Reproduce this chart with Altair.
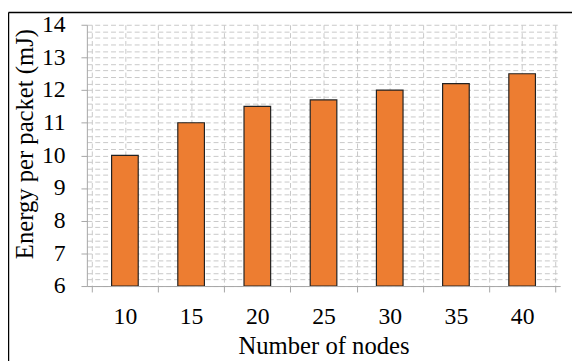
import altair as alt
import pandas as pd

nodes = [10, 15, 20, 25, 30, 35, 40]
energy = [10.0, 11.0, 11.5, 11.7, 12.0, 12.2, 12.5]

x_ticks = [7.5, 10, 12.5, 15, 17.5, 20, 22.5, 25, 27.5, 30, 32.5, 35, 37.5, 40, 42.5]
y_ticks = [round(6 + 0.2 * i, 1) for i in range(41)]

df = pd.DataFrame({"nodes": nodes, "energy": energy})

FONT = "Liberation Serif"
AXIS_GRAY = "#a6a6a6"
GRID = "#c8c8c8"

x_scale = alt.Scale(domain=[7.5, 42.5], nice=False, zero=False)
y_scale = alt.Scale(domain=[6, 14], nice=False, zero=False)

bars = alt.Chart(df).mark_bar(
    size=27, color="#ED7D31", stroke="#222222", strokeWidth=1.2, clip=True
).encode(
    x=alt.X("nodes:Q", scale=x_scale, axis=alt.Axis(
        values=x_ticks,
        title="Number of nodes",
        format="d",
        labelExpr="datum.value % 5 == 0 ? datum.label : ''",
        tickOpacity={"condition": {"test": "datum.value % 5 == 0", "value": 0}, "value": 1},
        tickSize=6, labelPadding=13, labelOverlap=False, labelFlush=False,
        labelFont=FONT, labelFontSize=24, titleFont=FONT, titleFontSize=25,
        grid=True, gridDash=[5, 3], gridColor=GRID, gridWidth=1,
        domainColor=AXIS_GRAY, tickColor=AXIS_GRAY,
        titleY=68.5, titleBaseline="alphabetic",
    )),
    y=alt.Y("energy:Q", scale=y_scale, axis=alt.Axis(
        values=y_ticks,
        title="Energy per packet (mJ)",
        format=".0f",
        labelExpr="abs(datum.value - round(datum.value)) < 0.001 ? datum.label : ''",
        tickOpacity={"condition": {"test": "abs(datum.value - round(datum.value)) < 0.001", "value": 1}, "value": 0},
        tickSize=6, labelPadding=16, labelOverlap=False, labelFlush=False,
        labelFont=FONT, labelFontSize=24, titleFont=FONT, titleFontSize=25,
        grid=True, gridDash=[5, 3], gridColor=GRID, gridWidth=1,
        domainColor=AXIS_GRAY, tickColor=AXIS_GRAY,
        titleX=-55, titleY=120.5, titleAngle=-90, titleAlign="center",
        titleBaseline="alphabetic",
    )),
    y2=alt.datum(6),
)

frame = pd.DataFrame({"a": [0]})
left_border = alt.Chart(frame).mark_rule(color="#000000", strokeWidth=1.5).encode(
    x=alt.value(-79.5), y=alt.value(-12.5), y2=alt.value(400)
)
top_border = alt.Chart(frame).mark_rule(color="#000000", strokeWidth=1.5).encode(
    x=alt.value(-79.5), x2=alt.value(600), y=alt.value(-12.5)
)

chart = alt.layer(bars, left_border, top_border).properties(
    width=480, height=265,
    autosize="none",
    padding={"left": 80, "top": 14.5, "right": 12, "bottom": 73.5},
).configure_view(stroke=None).configure_axis(
    labelFont=FONT, titleFont=FONT,
    labelColor="#000000", titleColor="#000000", titleFontWeight="normal",
)

chart.save("out.html", embed_options={"renderer": "svg", "actions": False})
